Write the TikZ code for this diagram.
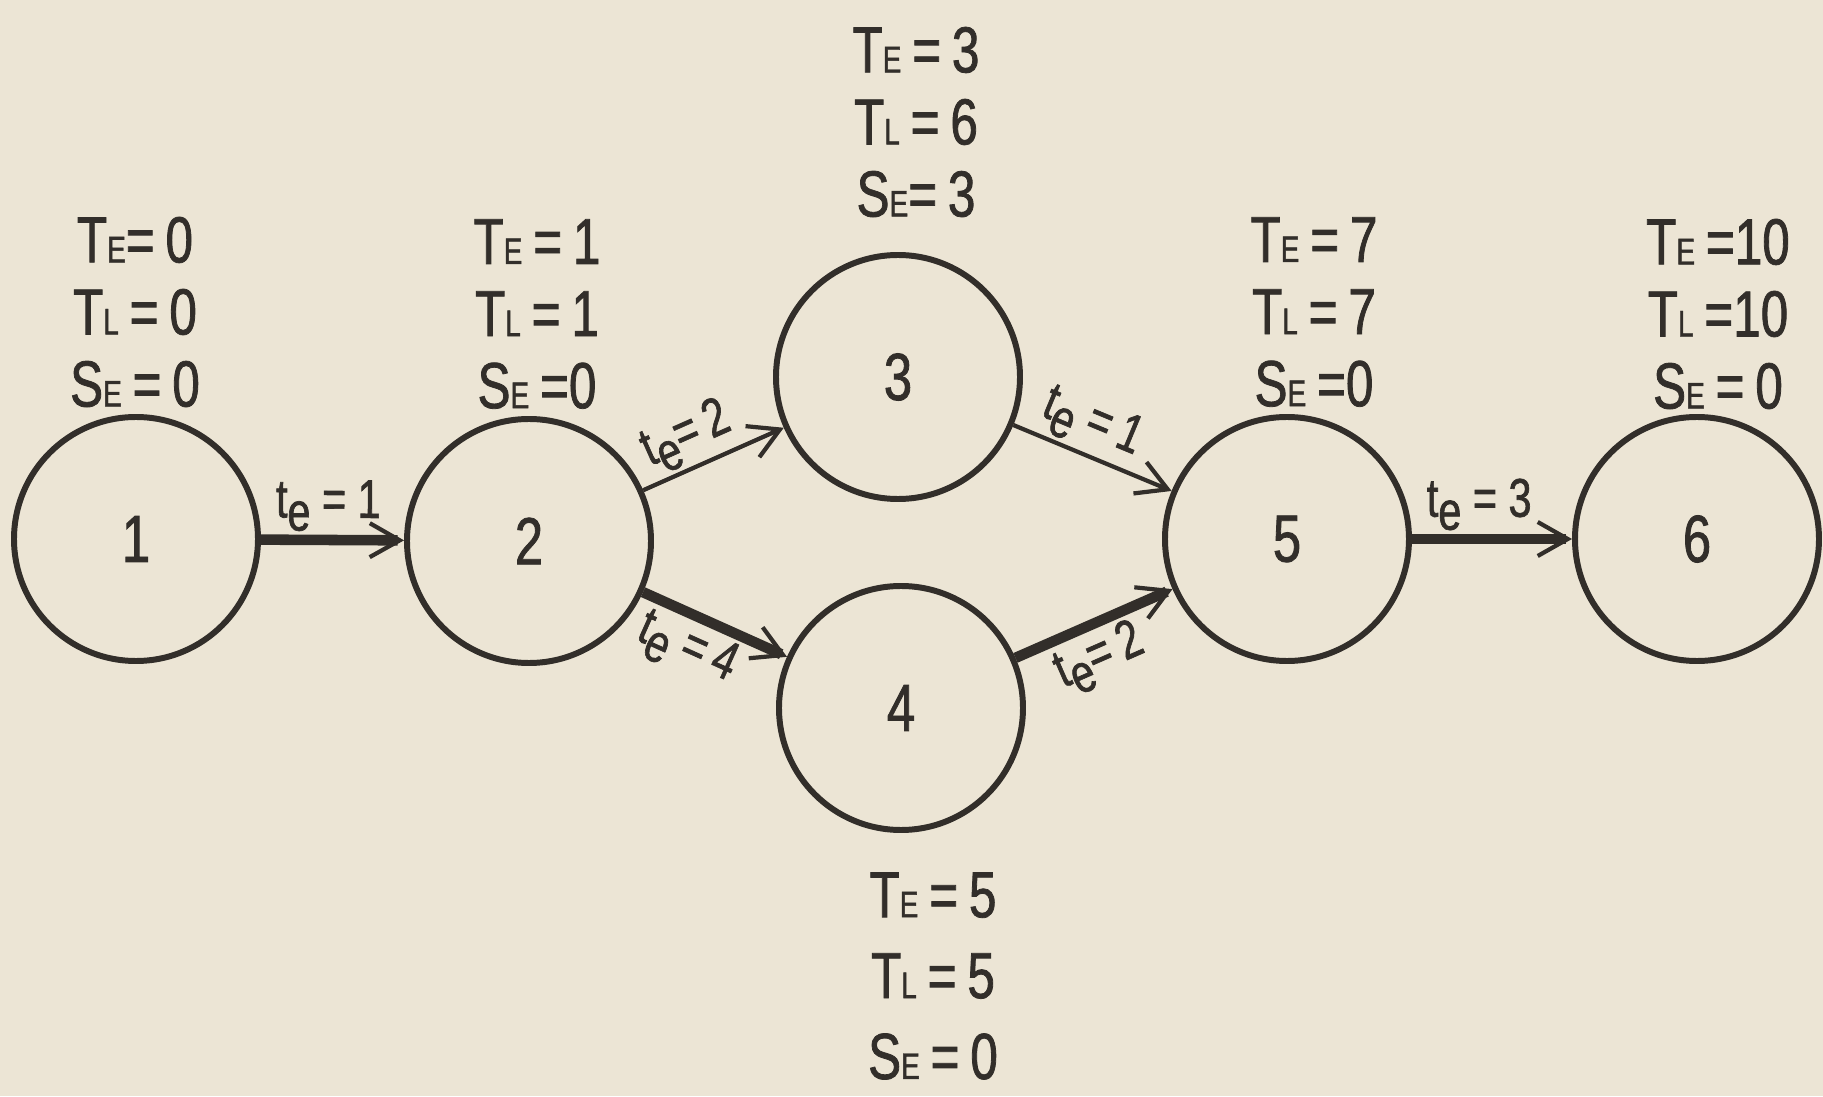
\documentclass[tikz,border=0pt]{standalone}
\usepackage{fontspec}
\setmainfont{Liberation Sans}[FakeStretch=0.76, FakeBold=1.2]
\usetikzlibrary{arrows.meta}

\definecolor{paper}{RGB}{236,229,213}
\definecolor{ink}{RGB}{50,46,42}
\newcommand\lo[1]{{\fontsize{10.5}{10.5}\selectfont #1}}
\newcommand\tev{t\raisebox{-0.45ex}{e}}

\begin{document}
\begin{tikzpicture}[
  event/.style={circle, draw=ink, line width=1.7pt, minimum size=2.44cm, inner sep=0pt,
    text=ink, font=\fontsize{19}{19}\selectfont},
  info/.style={text=ink, align=center, font=\fontsize{18.5}{20.5}\selectfont},
  act/.style={draw=ink, line width=1.2pt, -{Straight Barb[length=3mm,width=3.4mm,line width=1.2pt]}},
  crit/.style={act, line width=3pt},
  lbl/.style={text=ink, font=\fontsize{15.5}{15.5}\selectfont, sloped, inner sep=1pt}
]
\fill[paper] (0,0) rectangle (18.23,10.96);
\useasboundingbox (0,0) rectangle (18.23,10.96);
% events
\node[event] (n1) at (1.36,5.57) {1};
\node[event] (n2) at (5.29,5.55) {2};
\node[event] (n3) at (8.98,7.19) {3};
\node[event] (n4) at (9.01,3.88) {4};
\node[event] (n5) at (12.87,5.57) {5};
\node[event] (n6) at (16.97,5.57) {6};
% earliest, latest times and slack
\node[info] (i1) at (1.35,7.84) {T\lo{E}=\,0\\T\lo{L}\,=\,0\\S\lo{E}\,=\,0};
\node[info] (i2) at (5.37,7.82) {T\lo{E}\,=\,1\\T\lo{L}\,=\,1\\S\lo{E}\,=0};
\node[info] (i3) at (9.16,9.74) {T\lo{E}\,=\,3\\T\lo{L}\,=\,6\\S\lo{E}=\,3};
\node[info, font=\fontsize{18.5}{23}\selectfont] (i4) at (9.33,1.2) {T\lo{E}\,=\,5\\T\lo{L}\,=\,5\\S\lo{E}\,=\,0};
\node[info] (i5) at (13.14,7.84) {T\lo{E}\,=\,7\\T\lo{L}\,=\,7\\S\lo{E}\,=0};
\node[info] (i6) at (17.18,7.82) {T\lo{E}\,=10\\T\lo{L}\,=10\\S\lo{E}\,=\,0};
% activities, critical path drawn heavy
\draw[crit] (n1) -- node[lbl, above, pos=0.47] (a12) {\tev\ =\ 1} (n2);
\draw[act] (n2) -- node[lbl, above, pos=0.4] (a23) {\tev=\,2} (n3);
\draw[crit] (n2) -- node[lbl, below, pos=0.4] (a24) {\tev\ =\,4} (n4);
\draw[act] (n3) -- node[lbl, above, pos=0.42] (a35) {\tev\ =\,1} (n5);
\draw[crit] (n4) -- node[lbl, below, pos=0.45] (a45) {\tev=\,2} (n5);
\draw[crit] (n5) -- node[lbl, above, pos=0.42] (a56) {\tev\ =\ 3} (n6);
\end{tikzpicture}
\end{document}
